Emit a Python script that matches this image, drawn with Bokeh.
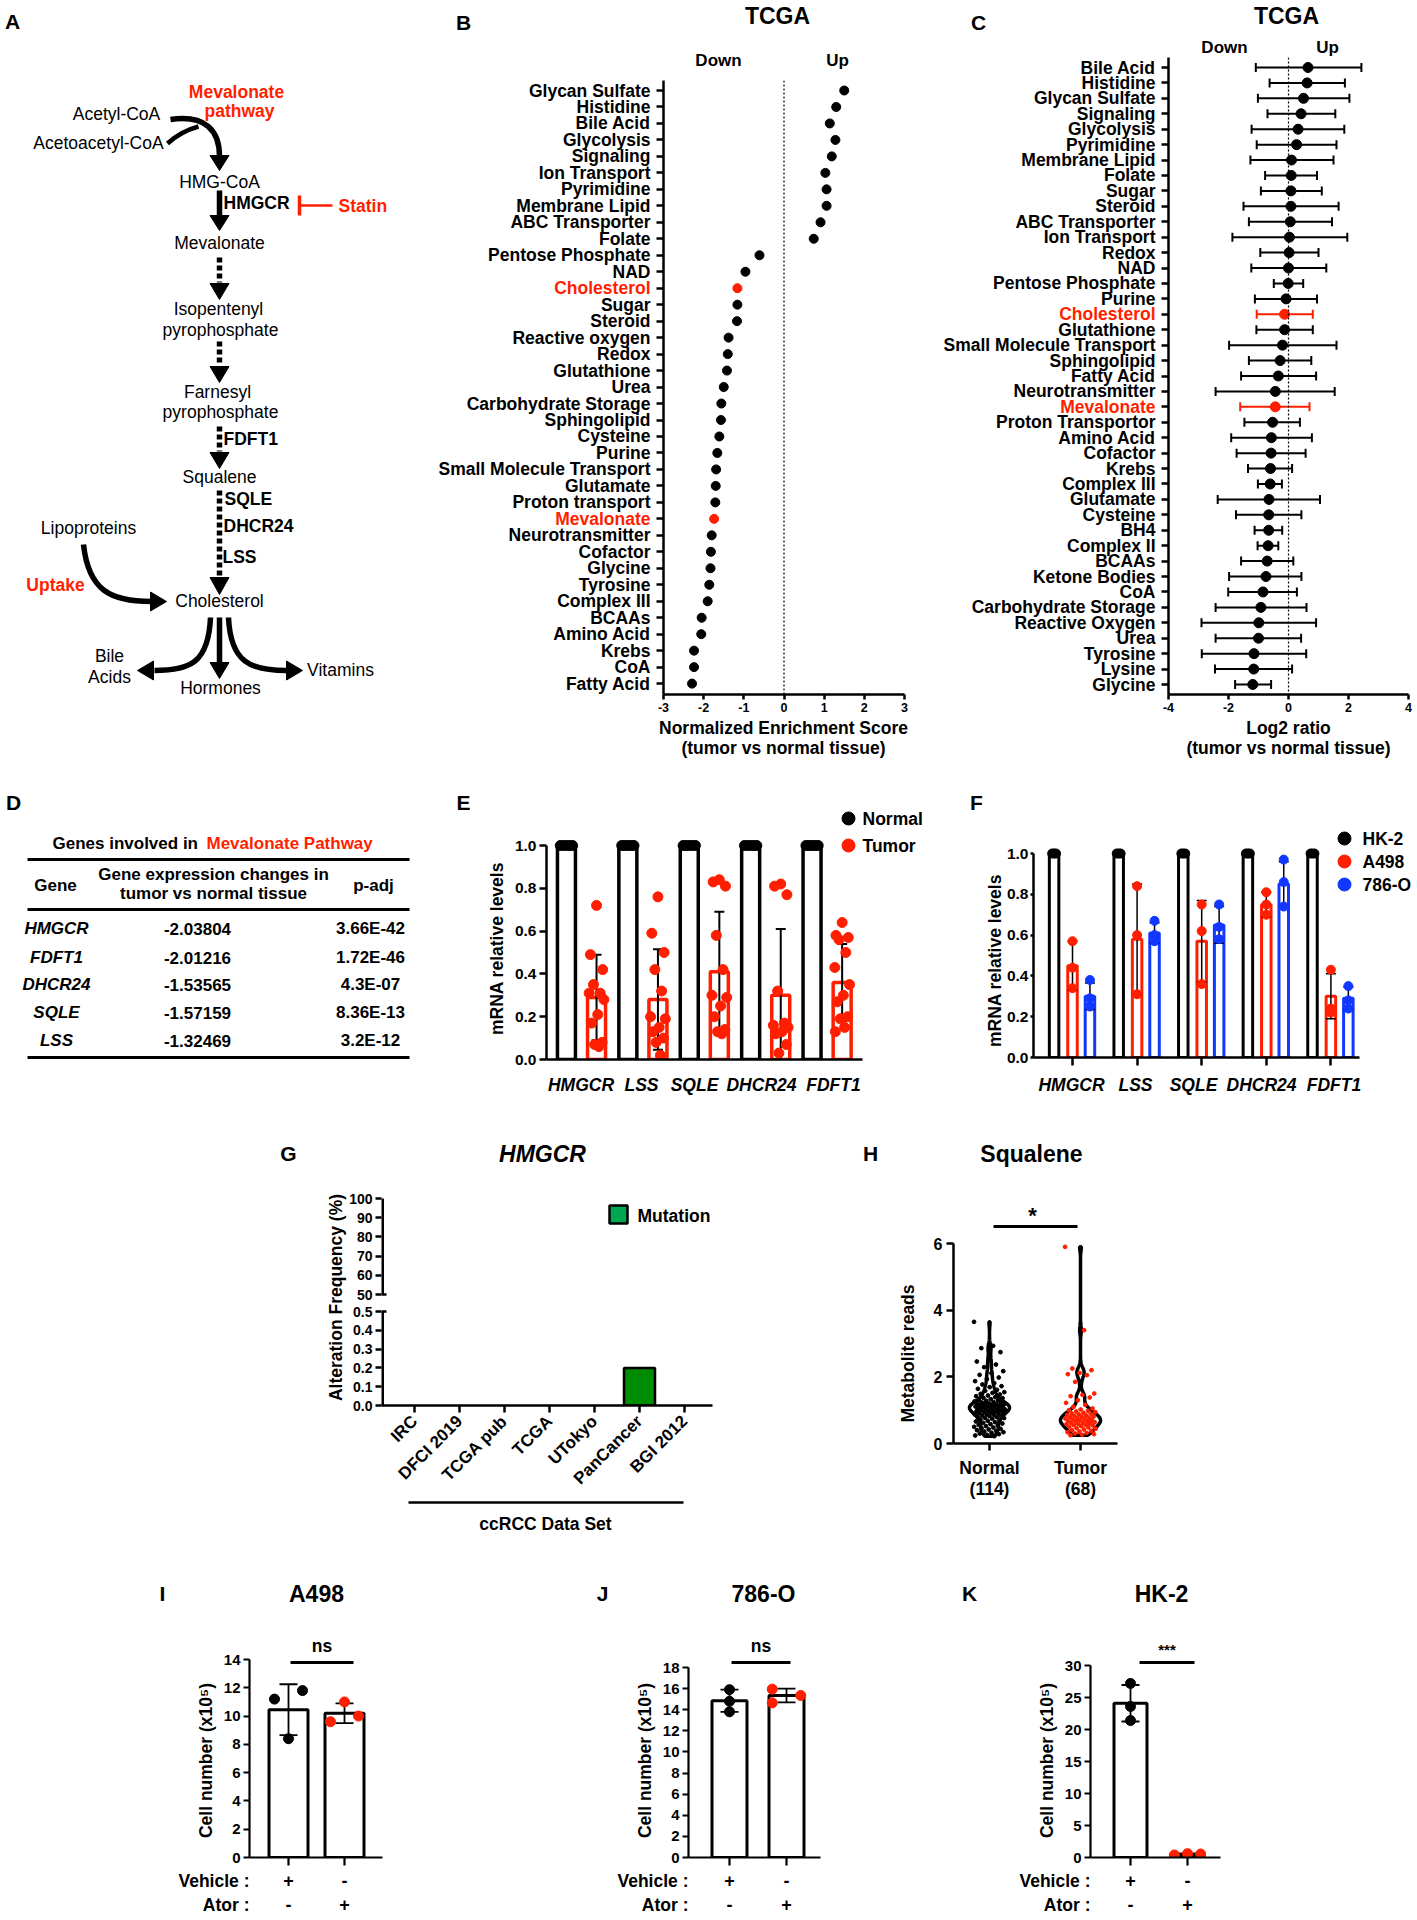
import numpy as np
from bokeh.plotting import figure
from bokeh.models import Range1d, FixedTicker, NumeralTickFormatter, Span
from bokeh.layouts import column, row
from bokeh.embed import file_html
from bokeh.resources import INLINE
from bokeh.core.properties import value

FONT = "Liberation Sans"
RED = "#FF1F00"
BLUE = "#1238FF"
BLACK = "black"
GREEN = "#008C00"
GREEN_L = "#00A651"

# ======================= DATA =======================
# Panel B: NES (tumor vs normal)
b_categories = ["Glycan Sulfate", "Histidine", "Bile Acid", "Glycolysis", "Signaling", "Ion Transport",
                "Pyrimidine", "Membrane Lipid", "ABC Transporter", "Folate", "Pentose Phosphate", "NAD",
                "Cholesterol", "Sugar", "Steroid", "Reactive oxygen", "Redox", "Glutathione", "Urea",
                "Carbohydrate Storage", "Sphingolipid", "Cysteine", "Purine", "Small Molecule Transport",
                "Glutamate", "Proton transport", "Mevalonate", "Neurotransmitter", "Cofactor", "Glycine",
                "Tyrosine", "Complex III", "BCAAs", "Amino Acid", "Krebs", "CoA", "Fatty Acid"]
b_nes = [1.50, 1.30, 1.14, 1.28, 1.19, 1.03, 1.06, 1.06, 0.91, 0.74, -0.61, -0.96, -1.16, -1.16, -1.17,
         -1.38, -1.40, -1.42, -1.50, -1.56, -1.57, -1.61, -1.66, -1.69, -1.70, -1.71, -1.74, -1.80,
         -1.82, -1.83, -1.86, -1.90, -2.05, -2.06, -2.24, -2.24, -2.29]
highlight = ["Cholesterol", "Mevalonate"]

# Panel C: log2 ratio with error range
c_categories = ["Bile Acid", "Histidine", "Glycan Sulfate", "Signaling", "Glycolysis", "Pyrimidine",
                "Membrane Lipid", "Folate", "Sugar", "Steroid", "ABC Transporter", "Ion Transport", "Redox",
                "NAD", "Pentose Phosphate", "Purine", "Cholesterol", "Glutathione", "Small Molecule Transport",
                "Sphingolipid", "Fatty Acid", "Neurotransmitter", "Mevalonate", "Proton Transportor",
                "Amino Acid", "Cofactor", "Krebs", "Complex III", "Glutamate", "Cysteine", "BH4", "Complex II",
                "BCAAs", "Ketone Bodies", "CoA", "Carbohydrate Storage", "Reactive Oxygen", "Urea", "Tyrosine",
                "Lysine", "Glycine"]
c_log2 = [0.65, 0.62, 0.50, 0.42, 0.32, 0.27, 0.10, 0.09, 0.08, 0.08, 0.06, 0.03, 0.02, 0.00, -0.01,
          -0.08, -0.13, -0.13, -0.20, -0.28, -0.34, -0.44, -0.44, -0.53, -0.57, -0.58, -0.60, -0.61,
          -0.65, -0.66, -0.66, -0.68, -0.71, -0.75, -0.85, -0.92, -0.99, -1.00, -1.15, -1.16, -1.19]
c_low = [-1.09, -0.63, -1.02, -0.70, -1.23, -1.06, -1.27, -0.78, -0.92, -1.50, -1.32, -1.87, -0.94,
         -1.24, -0.49, -1.12, -1.06, -1.07, -1.98, -1.32, -1.58, -2.43, -1.61, -1.47, -1.91, -1.73,
         -1.35, -1.02, -2.36, -1.75, -1.13, -1.03, -1.58, -1.98, -2.01, -2.43, -2.90, -2.43, -2.89,
         -2.45, -1.78]
c_high = [2.43, 1.88, 2.03, 1.56, 1.86, 1.60, 1.50, 0.95, 1.11, 1.67, 1.45, 1.96, 1.00, 1.26, 0.49,
          0.95, 0.81, 0.81, 1.60, 0.76, 0.92, 1.54, 0.70, 0.38, 0.78, 0.57, 0.12, -0.22, 1.05, 0.43,
          -0.21, -0.34, 0.16, 0.43, 0.28, 0.60, 0.92, 0.42, 0.59, 0.12, -0.58]

# Panel D: table
d_genes = ["HMGCR", "FDFT1", "DHCR24", "SQLE", "LSS"]
d_change = ["-2.03804", "-2.01216", "-1.53565", "-1.57159", "-1.32469"]
d_padj = ["3.66E-42", "1.72E-46", "4.3E-07", "8.36E-13", "3.2E-12"]

# Panel E: mRNA relative levels, tissue
e_genes = ["HMGCR", "LSS", "SQLE", "DHCR24", "FDFT1"]
e_normal = [1.0, 1.0, 1.0, 1.0, 1.0]
e_tumor_mean = [0.29, 0.28, 0.41, 0.30, 0.36]
e_tumor_sd = [0.20, 0.235, 0.28, 0.31, 0.18]
e_tumor_points = [
    [0.72, 0.49, 0.42, 0.35, 0.31, 0.31, 0.28, 0.21, 0.17, 0.08, 0.07, 0.06],
    [0.76, 0.59, 0.50, 0.42, 0.32, 0.20, 0.19, 0.15, 0.13, 0.10, 0.08, 0.02],
    [0.84, 0.83, 0.81, 0.58, 0.42, 0.30, 0.29, 0.25, 0.20, 0.14, 0.13, 0.12],
    [0.82, 0.81, 0.77, 0.32, 0.17, 0.16, 0.15, 0.13, 0.12, 0.07, 0.03],
    [0.64, 0.58, 0.57, 0.56, 0.50, 0.43, 0.35, 0.30, 0.27, 0.20, 0.19, 0.15, 0.13],
]

# Panel F: mRNA relative levels, cell lines
f_cells = ["HK-2", "A498", "786-O"]
f_hk2 = [1.0, 1.0, 1.0, 1.0, 1.0]
f_a498_mean = [0.45, 0.58, 0.57, 0.75, 0.30]
f_a498_sd = [0.12, 0.27, 0.20, 0.06, 0.11]
f_786o_mean = [0.30, 0.61, 0.65, 0.85, 0.29]
f_786o_sd = [0.065, 0.05, 0.09, 0.11, 0.055]
f_a498_points = [[0.57, 0.44, 0.34], [0.84, 0.60, 0.31], [0.75, 0.62, 0.36], [0.81, 0.75, 0.70], [0.43, 0.24, 0.22]]
f_786o_points = [[0.38, 0.29, 0.25], [0.67, 0.60, 0.57], [0.75, 0.64, 0.58], [0.97, 0.86, 0.74], [0.35, 0.28, 0.24]]

# Panel G: HMGCR alteration frequency
g_datasets = ["IRC", "DFCI 2019", "TCGA pub", "TCGA", "UTokyo", "PanCancer", "BGI 2012"]
g_mutation = [0.0, 0.0, 0.0, 0.0, 0.0, 0.2, 0.0]
g_low_ticks = [0.0, 0.1, 0.2, 0.3, 0.4, 0.5]
g_high_ticks = [50, 60, 70, 80, 90, 100]

# Panel H: squalene metabolite reads
h_groups = ["Normal", "Tumor"]
h_counts = ["(114)", "(68)"]
h_normal = [3.65, 2.93, 2.86, 2.74, 2.55, 2.46, 2.37, 2.29, 2.17, 2.11, 2.06, 1.98,
            1.93, 1.87, 1.81, 1.77, 1.72, 1.69, 1.64, 1.61, 1.58, 1.54, 1.52, 1.49,
            1.47, 1.44, 1.42, 1.39, 1.37, 1.36, 1.33, 1.31, 1.29, 1.28, 1.26, 1.24, 1.23, 1.21, 1.2,
            1.19, 1.18, 1.17, 1.16, 1.15, 1.14, 1.13, 1.12, 1.11, 1.1, 1.09, 1.08, 1.07, 1.06, 1.05,
            1.04, 1.03, 1.02, 1.01, 0.99,
            0.98, 0.97, 0.96, 0.95, 0.93, 0.92, 0.91, 0.9, 0.88, 0.87, 0.86, 0.84, 0.83, 0.82, 0.8, 0.79,
            0.77, 0.76, 0.74, 0.72, 0.7, 0.68, 0.66, 0.64, 0.62, 0.6, 0.58, 0.56, 0.54, 0.52, 0.5,
            0.48, 0.46, 0.44, 0.42, 0.4, 0.38, 0.36, 0.34, 0.32, 0.3, 0.28, 0.26, 0.24, 0.22,
            1.12, 1.08, 1.15, 1.05, 0.97, 1.22, 1.0, 0.94, 1.18, 1.1]
h_tumor = [5.9, 3.4, 2.25, 2.2, 2.12, 2.08, 2.05, 1.85, 1.5, 1.46, 1.42, 1.38, 1.3, 1.22, 1.16, 1.1,
           1.05, 1.02, 1.0, 0.98, 0.96, 0.94, 0.92, 0.9, 0.89, 0.87, 0.86, 0.84, 0.83, 0.81, 0.8, 0.79,
           0.77, 0.76, 0.75, 0.74, 0.72, 0.71, 0.7, 0.68, 0.67, 0.66, 0.64, 0.63, 0.62, 0.6, 0.59, 0.58,
           0.56, 0.55, 0.54, 0.52, 0.5, 0.48, 0.46, 0.44, 0.42, 0.4, 0.38, 0.36, 0.34, 0.32, 0.3, 0.28,
           0.26, 0.25, 0.61, 0.73]

# Panels I, J, K: cell number (x10^5)
i_mean = [10.45, 10.2]
i_sd = [1.8, 0.7]
i_points = [[11.2, 11.8, 8.4], [11.0, 10.0, 9.6]]
j_mean = [14.85, 15.35]
j_sd = [1.05, 0.65]
j_points = [[15.9, 14.8, 13.8], [15.95, 15.35, 14.65]]
k_mean = [24.1, 0.5]
k_sd = [2.85, 0.12]
k_points = [[27.2, 23.6, 21.4], [0.4, 0.6, 0.55]]


# ======================= HELPERS =======================
class Panel:
    """Figure covering page pixels fx0..fx1 / fy0..fy1 with a frame at L,T,R,B."""

    def __init__(self, fx0, fy0, fx1, fy1, L, T, R, B, xr, yr, axes=True):
        self.L, self.T, self.R, self.B = L, T, R, B
        self.xr, self.yr = xr, yr
        kw = dict(width=int(fx1 - fx0), height=int(fy1 - fy0),
                  x_range=Range1d(xr[0], xr[1]), y_range=Range1d(yr[0], yr[1]),
                  min_border_left=int(L - fx0), min_border_right=int(fx1 - R),
                  min_border_top=int(T - fy0), min_border_bottom=int(fy1 - B),
                  output_backend="svg", toolbar_location=None)
        if not axes:
            kw["x_axis_location"] = None
            kw["y_axis_location"] = None
        p = figure(**kw)
        try:
            p.frame_align = False
        except AttributeError:
            pass
        p.outline_line_color = None
        p.grid.visible = False
        p.background_fill_color = "white"
        p.border_fill_color = "white"
        self.p = p

    def X(self, px):
        return self.xr[0] + (px - self.L) / (self.R - self.L) * (self.xr[1] - self.xr[0])

    def Y(self, py):
        return self.yr[0] + (self.B - py) / (self.B - self.T) * (self.yr[1] - self.yr[0])

    def label_d(self, text, x, y, size=17.5, style="bold", color=BLACK, align="center",
                baseline="middle", angle=0.0):
        r = self.p.text(x=[x], y=[y], text=[text], text_font=value(FONT),
                        text_font_size=value(f"{size}px"), text_font_style=value(style),
                        text_color=value(color), text_align=value(align),
                        text_baseline=value(baseline), angle=value(angle))
        r.level = "overlay"

    def label(self, text, px, py, **kw):
        self.label_d(text, self.X(px), self.Y(py), **kw)


def style_axis(ax, ticks=None, size=14, tick_out=6, standoff=4, lw=2.5, italic=False,
               overrides=None, bounds=None, line=True, tick_lines=True):
    ax.axis_line_width = lw
    ax.axis_line_color = BLACK if line else None
    ax.major_tick_line_width = lw
    ax.major_tick_line_color = BLACK if tick_lines else None
    ax.major_tick_in = 0
    ax.major_tick_out = tick_out
    ax.minor_tick_line_color = None
    ax.major_label_text_font = FONT
    ax.major_label_text_font_style = "bold italic" if italic else "bold"
    ax.major_label_text_font_size = f"{size}px"
    ax.major_label_text_color = BLACK
    ax.major_label_standoff = standoff
    if ticks is not None:
        ax.ticker = FixedTicker(ticks=list(ticks))
    if overrides is not None:
        ax.major_label_overrides = overrides
    if bounds is not None:
        ax.bounds = bounds


def jitter_offsets(n, spread):
    return [((k * 0.6180339887) % 1.0 * 2.0 - 1.0) * spread for k in range(n)]


# ======================= PANEL A (pathway diagram) =======================
A = Panel(0, 0, 420, 770, 0, 0, 420, 770, (0, 420), (770, 0), axes=False)
pa = A.p
solid = [(219, 190, 219, 217), (219, 617, 219, 664)]
pa.segment([s[0] for s in solid], [s[1] for s in solid], [s[2] for s in solid], [s[3] for s in solid],
           line_width=5.5, color=BLACK)
dotted = [(219, 257, 219, 282), (219, 341, 219, 365), (219, 426, 219, 451), (219, 490, 219, 576)]
pa.segment([s[0] for s in dotted], [s[1] for s in dotted], [s[2] for s in dotted], [s[3] for s in dotted],
           line_width=5.5, color=BLACK, line_dash="5 3")
heads_x, heads_y = [], []
for (x, tip, base) in [(219, 170, 155), (219, 230, 215), (219, 299, 283), (219, 382, 366),
                       (219, 468, 452), (219, 594, 577), (219, 678, 662)]:
    heads_x.append([x - 9.5, x + 9.5, x]); heads_y.append([base, base, tip])
for (y, tip, base) in [(601, 166, 150), (670, 302, 286), (670, 137, 153)]:
    heads_x.append([base, base, tip]); heads_y.append([y - 9.5, y + 9.5, y])
pa.patches(heads_x, heads_y, color=BLACK)
pa.bezier(x0=[170, 83, 210, 228], y0=[119, 544, 617, 617], x1=[219, 151, 154, 286], y1=[156, 601, 670, 670],
          cx0=[205, 88, 208, 230], cy0=[114, 590, 662, 662], cx1=[219, 110, 190, 250], cy1=[130, 601, 670, 670],
          line_width=5.5, color=BLACK)
pa.quadratic(x0=[167], y0=[143], x1=[198], y1=[126], cx=[180], cy=[131], line_width=4.5, color=BLACK)
pa.segment([299, 299], [195, 205], [299, 332], [215, 205], line_width=[3.5, 2.5], color=RED)

A.label("A", 12, 21, size=21)
A.label("Mevalonate", 236, 91, color=RED)
A.label("pathway", 239, 110, color=RED)
A.label("Acetyl-CoA", 116, 113, style="normal")
A.label("Acetoacetyl-CoA", 98, 142, style="normal")
A.label("HMG-CoA", 219, 181, style="normal")
A.label("HMGCR", 223, 202, align="left")
A.label("Statin", 338, 205, align="left", color=RED)
A.label("Mevalonate", 219, 242, style="normal")
A.label("Isopentenyl", 218, 308, style="normal")
A.label("pyrophosphate", 220, 329, style="normal")
A.label("Farnesyl", 217, 391, style="normal")
A.label("pyrophosphate", 220, 411, style="normal")
A.label("FDFT1", 223, 438, align="left")
A.label("Squalene", 219, 476, style="normal")
A.label("SQLE", 224, 498, align="left")
A.label("DHCR24", 223, 525, align="left")
A.label("LSS", 222, 556, align="left")
A.label("Cholesterol", 219, 600, style="normal")
A.label("Lipoproteins", 88, 527, style="normal")
A.label("Uptake", 55, 584, color=RED)
A.label("Bile", 109, 655, style="normal")
A.label("Acids", 109, 676, style="normal")
A.label("Hormones", 220, 687, style="normal")
A.label("Vitamins", 340, 669, style="normal")

# ======================= PANEL B =======================
nb = len(b_categories)
b_row = 16.475
B = Panel(420, 0, 930, 770, 663, 80, 904, 694, (-3, 3), ((90 - 694) / b_row, (90 - 80) / b_row))
pb = B.p
b_y = [-i for i in range(nb)]
b_col = [RED if c in highlight else BLACK for c in b_categories]
pb.add_layout(Span(location=0, dimension="height", line_color=BLACK, line_width=1.2, line_dash="2 2"))
pb.scatter(x=b_nes, y=b_y, size=9, color=b_col)
style_axis(pb.xaxis[0], ticks=[-3, -2, -1, 0, 1, 2, 3], size=12.5, tick_out=5, standoff=3,
           overrides={v: str(v) for v in [-3, -2, -1, 0, 1, 2, 3]})
style_axis(pb.yaxis[0], ticks=b_y, size=17.5, tick_out=7, standoff=6,
           overrides={-i: ("" if c in highlight else c) for i, c in enumerate(b_categories)})
for i, c in enumerate(b_categories):
    if c in highlight:
        B.label_d(c, B.X(650), -i, color=RED, align="right")
B.label("B", 463, 22, size=21)
B.label("TCGA", 777, 15, size=23)
B.label("Down", 718, 60, size=17)
B.label("Up", 837, 60, size=17)
B.label("Normalized Enrichment Score", 783, 727)
B.label("(tumor vs normal tissue)", 783, 747)

# ======================= PANEL C =======================
nc = len(c_categories)
c_row = 15.425
C = Panel(930, 0, 1417, 770, 1168, 57, 1408, 694, (-4, 4), ((67 - 694) / c_row, (67 - 57) / c_row))
pc = C.p
c_y = [-i for i in range(nc)]
c_col = [RED if c in highlight else BLACK for c in c_categories]
pc.add_layout(Span(location=0, dimension="height", line_color=BLACK, line_width=1.2, line_dash="2 2"))
pc.segment(x0=c_low, y0=c_y, x1=c_high, y1=c_y, line_width=2, color=c_col)
pc.scatter(x=c_low + c_high, y=c_y + c_y, marker="dash", angle=np.pi / 2, size=9, line_width=2,
           color=c_col + c_col)
pc.scatter(x=c_log2, y=c_y, size=10, color=c_col)
style_axis(pc.xaxis[0], ticks=[-4, -2, 0, 2, 4], size=12.5, tick_out=5, standoff=3,
           overrides={v: str(v) for v in [-4, -2, 0, 2, 4]})
style_axis(pc.yaxis[0], ticks=c_y, size=17.5, tick_out=7, standoff=6,
           overrides={-i: ("" if c in highlight else c) for i, c in enumerate(c_categories)})
for i, c in enumerate(c_categories):
    if c in highlight:
        C.label_d(c, C.X(1155), -i, color=RED, align="right")
C.label("C", 978, 22, size=21)
C.label("TCGA", 1286, 15, size=23)
C.label("Down", 1224, 47, size=17)
C.label("Up", 1327, 47, size=17)
C.label("Log2 ratio", 1288, 727)
C.label("(tumor vs normal tissue)", 1288, 747)

# ======================= PANEL D (table) =======================
D = Panel(0, 770, 420, 1110, 0, 770, 420, 1110, (0, 420), (1110, 770), axes=False)
pd_ = D.p
pd_.segment([27, 27, 27], [859, 909, 1057], [409, 409, 409], [859, 909, 1057], line_width=3, color=BLACK)
D.label("D", 13, 802, size=21)
D.label("Genes involved in", 52, 843, size=17, align="left")
D.label("Mevalonate Pathway", 206, 843, size=17, align="left", color=RED)
D.label("Gene", 55, 885, size=17)
D.label("Gene expression changes in", 213, 874, size=17)
D.label("tumor vs normal tissue", 213, 893, size=17)
D.label("p-adj", 373, 885, size=17)
d_rows_y = [928, 957, 984, 1012, 1040]
for g, ch, pv, yy in zip(d_genes, d_change, d_padj, d_rows_y):
    D.label(g, 56, yy, size=17, style="bold italic")
    D.label(ch, 197, yy, size=17)
    D.label(pv, 370, yy, size=17)

# ======================= PANEL E =======================
e_unit, e_x0, e_yunit = 61.4, 581, 214
E = Panel(420, 770, 925, 1110, 546, 805, 925, 1059,
          ((546 - e_x0) / e_unit, (925 - e_x0) / e_unit), (0, (1059 - 805) / e_yunit))
pe = E.p
ex = np.arange(len(e_genes))
bw = 18 / e_unit
pe.vbar(x=ex - 0.245, top=e_normal, width=bw, fill_color="white", line_color=BLACK, line_width=3.5)
pe.vbar(x=ex + 0.245, top=e_tumor_mean, width=bw, fill_color="white", line_color=RED, line_width=3.5)
cap_offs = [-0.1, -0.05, 0.0, 0.05, 0.1]
pe.scatter(x=[g - 0.245 + o for g in ex for o in cap_offs],
           y=[e_normal[g] for g in ex for o in cap_offs], size=10, color=BLACK)
lo = [m - s for m, s in zip(e_tumor_mean, e_tumor_sd)]
hi = [m + s for m, s in zip(e_tumor_mean, e_tumor_sd)]
pe.segment(ex + 0.245, lo, ex + 0.245, hi, line_width=2, color=BLACK)
cw = 5 / e_unit
pe.segment(list(ex + 0.245 - cw) * 2, lo + hi, list(ex + 0.245 + cw) * 2, lo + hi, line_width=2, color=BLACK)
E_OFF = [0.0, -0.1, 0.1, -0.05, 0.06, -0.12, 0.12, 0.02, -0.08, 0.09, -0.03, 0.04, -0.11]
px_, py_ = [], []
for g, pts in enumerate(e_tumor_points):
    for k, v in enumerate(pts):
        px_.append(g + 0.245 + E_OFF[k % len(E_OFF)]); py_.append(v)
pe.scatter(x=px_, y=py_, size=10, color=RED)
# label anchor positions (page px) as set in the original layout
e_label_px = [580.5, 641, 694, 761, 833]
e_ticks = [(v - e_x0) / e_unit for v in e_label_px]
style_axis(pe.xaxis[0], ticks=e_ticks, size=17.5, tick_out=0, standoff=15, italic=True,
           overrides={t: g for t, g in zip(e_ticks, e_genes)},
           bounds=((546 - e_x0) / e_unit, (862 - e_x0) / e_unit), tick_lines=False)
style_axis(pe.yaxis[0], ticks=[0, 0.2, 0.4, 0.6, 0.8, 1.0], size=15.5, tick_out=7, standoff=3, bounds=(0, 1.0))
pe.yaxis[0].formatter = NumeralTickFormatter(format="0.0")
pe.scatter(x=[E.X(848), E.X(848)], y=[E.Y(818), E.Y(845)], size=13, color=[BLACK, RED])
E.label("Normal", 862, 818, align="left")
E.label("Tumor", 862, 845, align="left")
E.label("E", 463, 802, size=21)
E.label("mRNA relative levels", 496, 948, angle=np.pi / 2)

# ======================= PANEL F =======================
f_unit, f_x0, f_yunit = 64.6, 1072, 204
F = Panel(925, 770, 1417, 1110, 1033, 815, 1417, 1057,
          ((1033 - f_x0) / f_unit, (1417 - f_x0) / f_unit), (0, (1057 - 815) / f_yunit))
pf = F.p
fx = np.arange(len(e_genes))
fbw = 9.5 / f_unit
f_off = [-0.285, 0.0, 0.27]
f_cols = [BLACK, RED, BLUE]
pf.vbar(x=fx + f_off[0], top=f_hk2, width=fbw, fill_color="white", line_color=BLACK, line_width=3)
pf.vbar(x=fx + f_off[1], top=f_a498_mean, width=fbw, fill_color="white", line_color=RED, line_width=3)
pf.vbar(x=fx + f_off[2], top=f_786o_mean, width=fbw, fill_color="white", line_color=BLUE, line_width=3)
pf.scatter(x=[g + f_off[0] + o for g in fx for o in (-0.03, 0.0, 0.03)],
           y=[f_hk2[g] for g in fx for o in (-0.03, 0.0, 0.03)], size=9, color=BLACK)
fcw = 5 / f_unit
for means, sds, off in [(f_a498_mean, f_a498_sd, f_off[1]), (f_786o_mean, f_786o_sd, f_off[2])]:
    lo = [m - s for m, s in zip(means, sds)]
    hi = [m + s for m, s in zip(means, sds)]
    pf.segment(fx + off, lo, fx + off, hi, line_width=1.5, color=BLACK)
    pf.segment(list(fx + off - fcw) * 2, lo + hi, list(fx + off + fcw) * 2, lo + hi, line_width=1.5, color=BLACK)
for pts_all, off, col in [(f_a498_points, f_off[1], RED), (f_786o_points, f_off[2], BLUE)]:
    pf.scatter(x=[g + off for g in fx for v in pts_all[g]], y=[v for g in fx for v in pts_all[g]],
               size=9, color=col)
style_axis(pf.xaxis[0], ticks=list(fx), size=17.5, tick_out=8, standoff=9, italic=True,
           overrides={int(i): "" for i in fx},
           bounds=((1033 - f_x0) / f_unit, (1359 - f_x0) / f_unit))
f_label_px = [1071, 1135, 1193, 1261, 1333.5]
for g, lx in zip(e_genes, f_label_px):
    F.label(g, lx, 1084, style="bold italic")
style_axis(pf.yaxis[0], ticks=[0, 0.2, 0.4, 0.6, 0.8, 1.0], size=15.5, tick_out=3, standoff=2, bounds=(0, 1.0))
pf.yaxis[0].formatter = NumeralTickFormatter(format="0.0")
for name, col, yy in zip(f_cells, f_cols, [838, 861, 884]):
    pf.scatter(x=[F.X(1344)], y=[F.Y(yy)], size=13, color=col)
    F.label(name, 1362, yy, align="left")
F.label("F", 976, 802, size=21)
F.label("mRNA relative levels", 994, 960, angle=np.pi / 2)

# ======================= PANEL G (broken axis) =======================
g_unit, g_x0, g_yunit = 45, 414, 188
G = Panel(0, 1110, 760, 1560, 381, 1190, 760, 1405,
          ((381 - g_x0) / g_unit, (760 - g_x0) / g_unit), (0, (1405 - 1190) / g_yunit))
pg = G.p
top_base = (1405 - 1294) / g_yunit
top_scale = 96 / 50 / g_yunit


def g_high(v):
    return top_base + (v - 50) * top_scale


gx = [i for i, v in enumerate(g_mutation) if v > 0]
pg.vbar(x=gx, top=[g_mutation[i] for i in gx], width=31 / g_unit, fill_color=GREEN, line_color=BLACK,
        line_width=2.5)
xl = G.xr[0]
pg.segment([xl, xl], [0, g_high(50)], [xl, xl], [0.5, g_high(100)], line_width=5, color=BLACK)
pg.segment([xl, xl], [0.5, g_high(50)], [xl + 5 / g_unit, xl + 5 / g_unit], [0.5, g_high(50)],
           line_width=2.5, color=BLACK)
g_ticks = g_low_ticks + [g_high(v) for v in g_high_ticks]
g_over = {t: f"{t:.1f}" for t in g_low_ticks}
g_over.update({g_high(v): str(v) for v in g_high_ticks})
style_axis(pg.yaxis[0], ticks=g_ticks, size=14, tick_out=6, standoff=3, overrides=g_over, line=False)
style_axis(pg.xaxis[0], ticks=list(range(len(g_datasets))), size=17, tick_out=7, standoff=6,
           overrides={i: d for i, d in enumerate(g_datasets)}, bounds=(G.xr[0], (712 - g_x0) / g_unit))
pg.xaxis[0].major_label_orientation = np.pi / 4
pg.scatter(x=[G.X(618)], y=[G.Y(1214)], marker="square", size=18, fill_color=GREEN_L, line_color=BLACK,
           line_width=2.5)
G.label("Mutation", 637, 1215, align="left")
ul = pg.segment([G.X(408)], [G.Y(1502)], [G.X(683)], [G.Y(1502)], line_width=2.5, color=BLACK)
ul.level = "overlay"
G.label("ccRCC Data Set", 545, 1523)
G.label("G", 288, 1153, size=21)
G.label("HMGCR", 542, 1153, size=23, style="bold italic")
G.label("Alteration Frequency (%)", 335, 1297, angle=np.pi / 2)

# ======================= PANEL H (violin) =======================
h_unit, h_x0, h_yunit = 91, 989, 200 / 6
H = Panel(760, 1110, 1417, 1560, 953, 1195, 1200, 1443,
          ((953 - h_x0) / h_unit, (1200 - h_x0) / h_unit), (0, (1443 - 1195) / h_yunit))
ph = H.p


def violin(vals, center, half_w, bw):
    v = np.asarray(vals, dtype=float)
    ys = np.linspace(v.min(), v.max(), 240)
    d = np.exp(-0.5 * ((ys[:, None] - v[None, :]) / bw) ** 2).sum(axis=1)
    w = d / d.max() * half_w
    return (np.concatenate([center + w, (center - w)[::-1]]).tolist(),
            np.concatenate([ys, ys[::-1]]).tolist())


for k, (vals, col) in enumerate([(h_normal, BLACK), (h_tumor, RED)]):
    vx, vy = violin(vals, k, 0.22, 0.12)
    ph.patch(vx, vy, fill_color="white", line_color=BLACK, line_width=3.5)
    offs = jitter_offsets(len(vals), 0.17)
    ph.scatter(x=[k + o for o in offs], y=vals, size=3.8, color=col)
ph.segment([H.X(993)], [H.Y(1226)], [H.X(1077)], [H.Y(1226)], line_width=3, color=BLACK)
style_axis(ph.yaxis[0], ticks=[0, 2, 4, 6], size=16, tick_out=7, standoff=4, bounds=(0, 6))
style_axis(ph.xaxis[0], ticks=[0, 1], size=16, tick_out=7, standoff=4, overrides={0: "", 1: ""},
           bounds=(H.xr[0], (1117 - h_x0) / h_unit))
for k, (g, n) in enumerate(zip(h_groups, h_counts)):
    H.label_d(g, k, H.Y(1467))
    H.label_d(n, k, H.Y(1488))
H.label("*", 1032, 1215, size=22)
H.label("H", 870, 1153, size=21)
H.label("Squalene", 1031, 1153, size=23)
H.label("Metabolite reads", 907, 1353, angle=np.pi / 2)


# ======================= PANELS I, J, K =======================
def cell_panel(fx0, fx1, L, R, veh_px, unit_px, yunit_px, yticks, axis_end_px, bar_w_px,
               means, sds, pts, offs, letter, letter_x, title, title_x, sig, sig_size, line_px, ylab_x):
    T, Bm = 1630, 1857
    P = Panel(fx0, 1560, fx1, 1918, L, T, R, Bm,
              ((L - veh_px) / unit_px, (R - veh_px) / unit_px), (0, (Bm - T) / yunit_px))
    p = P.p
    xs = [0, 1]
    p.vbar(x=xs, top=means, width=bar_w_px / unit_px, fill_color="white", line_color=BLACK, line_width=3)
    lo = [m - s for m, s in zip(means, sds)]
    hi = [m + s for m, s in zip(means, sds)]
    p.segment(xs, lo, xs, hi, line_width=1.8, color=BLACK)
    cw = 9 / unit_px
    p.segment([x - cw for x in xs] * 2, lo + hi, [x + cw for x in xs] * 2, lo + hi, line_width=1.8, color=BLACK)
    for k, col in [(0, BLACK), (1, RED)]:
        p.scatter(x=[k + o for o in offs[k]], y=pts[k], size=10, color=col)
    p.segment([P.X(line_px[0])], [P.Y(1662)], [P.X(line_px[1])], [P.Y(1662)], line_width=3, color=BLACK)
    style_axis(p.yaxis[0], ticks=yticks, size=15, tick_out=6, standoff=3, bounds=(yticks[0], yticks[-1]),
               lw=2.2)
    style_axis(p.xaxis[0], ticks=xs, size=15, tick_out=8, standoff=4, overrides={0: "", 1: ""},
               bounds=(P.xr[0], (axis_end_px - veh_px) / unit_px), lw=2.2)
    P.label(sig, (line_px[0] + line_px[1]) / 2, 1645 if sig == "ns" else 1649, size=sig_size)
    P.label(letter, letter_x, 1593, size=21)
    P.label(title, title_x, 1593, size=23)
    P.label("Cell number (x10\u2075)", ylab_x, 1760, angle=np.pi / 2)
    P.label("Vehicle :", L, 1880, align="right")
    P.label("Ator :", L, 1904, align="right")
    P.label_d("+", 0, P.Y(1880), size=18)
    P.label_d("-", 1, P.Y(1880), size=18)
    P.label_d("-", 0, P.Y(1904), size=18)
    P.label_d("+", 1, P.Y(1904), size=18)
    return P


I = cell_panel(0, 590, 249, 420, 288, 56, 198 / 14, [0, 2, 4, 6, 8, 10, 12, 14], 382, 39,
               i_mean, i_sd, i_points, [[-0.25, 0.25, 0.0], [0.0, 0.25, -0.25]],
               "I", 162, "A498", 316, "ns", 17.5, (290, 353), 205)
J = cell_panel(590, 955, 688, 860, 729, 57, 190 / 18, [0, 2, 4, 6, 8, 10, 12, 14, 16, 18], 820, 35,
               j_mean, j_sd, j_points, [[0.0, 0.0, 0.0], [-0.25, 0.25, -0.25]],
               "J", 602, "786-O", 763, "ns", 17.5, (731, 790), 644)
K = cell_panel(955, 1417, 1090, 1260, 1130, 57, 192 / 30, [0, 5, 10, 15, 20, 25, 30], 1220, 33,
               k_mean, k_sd, k_points, [[0.0, 0.0, 0.0], [-0.23, 0.0, 0.23]],
               "K", 969, "HK-2", 1161, "***", 15, (1139, 1194), 1046)

layout = column(
    row(A.p, B.p, C.p),
    row(D.p, E.p, F.p),
    row(G.p, H.p),
    row(I.p, J.p, K.p),
)

with open("out.html", "w") as fh:
    fh.write(file_html(layout, INLINE))
